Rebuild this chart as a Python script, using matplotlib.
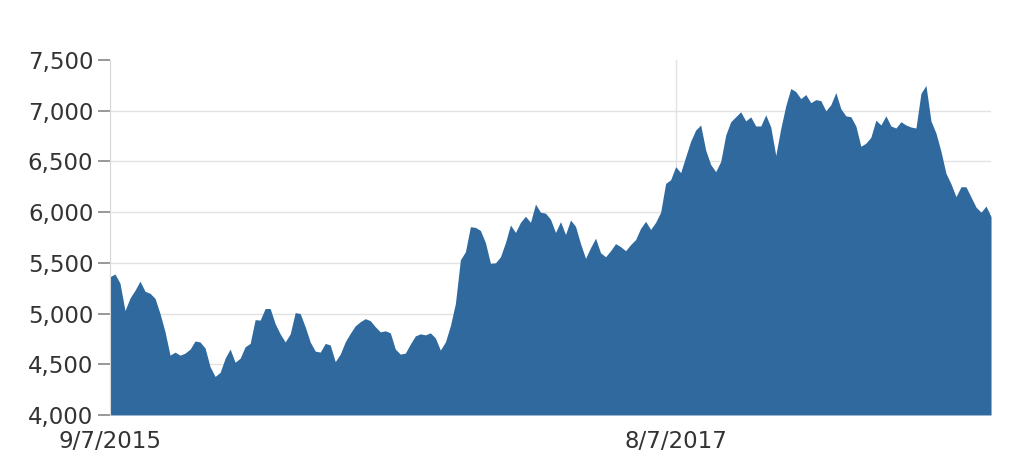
import pandas as pd
import matplotlib
matplotlib.use('Agg')
import matplotlib.pyplot as plt

# index level (evenly spaced samples)
values = [
    5364, 5390, 5300, 5030, 5153, 5230, 5320, 5220, 5200, 5150,
    5000, 4820, 4590, 4620, 4590, 4610, 4650, 4730, 4720, 4660,
    4476, 4380, 4420, 4560, 4650, 4520, 4560, 4673, 4706, 4940,
    4936, 5050, 5050, 4900, 4800, 4720, 4800, 5010, 5000, 4870,
    4720, 4630, 4620, 4706, 4690,
    4526, 4600, 4722, 4805, 4880, 4920, 4950, 4930, 4870, 4820,
    4830, 4810, 4650, 4600, 4610, 4700, 4780, 4800, 4790, 4810,
    4760, 4640, 4720, 4880, 5100, 5530, 5610, 5857, 5850, 5820,
    5700, 5496, 5500, 5560, 5700, 5874, 5800, 5900, 5960, 5900,
    6080, 6000, 5990, 5930,
    5800, 5907, 5780, 5923, 5860, 5690, 5545, 5650, 5743, 5600,
    5560, 5620, 5690, 5660, 5620, 5680, 5730, 5841, 5910, 5830,
    5900, 6000, 6284, 6320, 6449, 6390, 6547, 6700, 6810, 6860,
    6613, 6470, 6400, 6500, 6760, 6892, 6941, 6990, 6900, 6940,
    6850, 6850, 6960, 6840,
    6560, 6826, 7050, 7220, 7189, 7120, 7160, 7080, 7110, 7100,
    7000, 7060, 7180, 7020, 6950, 6941, 6850, 6650, 6680, 6740,
    6908, 6860, 6950, 6850, 6830, 6892, 6860, 6840, 6830, 7172,
    7250, 6900, 6780, 6600, 6383, 6280, 6153, 6251, 6250, 6150,
    6050, 6000, 6060, 5956,
]
dates = pd.date_range('2015-09-07', '2018-09-01', periods=len(values))

y_ticks = [4000, 4500, 5000, 5500, 6000, 6500, 7000, 7500]
x_ticks = [pd.Timestamp('2015-09-07'), pd.Timestamp('2017-08-07')]
x_labels = ['9/7/2015', '8/7/2017']

fig = plt.figure(figsize=(10.24, 4.59), dpi=100)
ax = fig.add_axes([0.1074, 0.0959, 0.8604, 0.7732])

ax.fill_between(dates, 4000, values, color='#2f699e', linewidth=0, zorder=2)

ax.set_ylim(4000, 7500)
ax.set_xlim(dates[0], dates[-1])
ax.set_yticks(y_ticks)
ax.set_yticklabels([f'{v:,}' for v in y_ticks])
ax.set_xticks(x_ticks)
ax.set_xticklabels(x_labels)

# gridlines (none on the top row)
for v in y_ticks[1:-1]:
    ax.axhline(v, color='#e2e2e2', linewidth=1, zorder=1)
ax.axvline(x_ticks[1], color='#e2e2e2', linewidth=1, zorder=1)

for s in ['top', 'right', 'bottom']:
    ax.spines[s].set_visible(False)
ax.spines['left'].set_color('#d8d8d8')

ax.tick_params(axis='y', length=8.5, width=1.2, color='#888888', pad=3.5,
               labelsize=16.5, labelcolor='#333333')
ax.tick_params(axis='x', length=0, pad=11, labelsize=16.5, labelcolor='#333333')

fig.savefig('out.png', dpi=100)
